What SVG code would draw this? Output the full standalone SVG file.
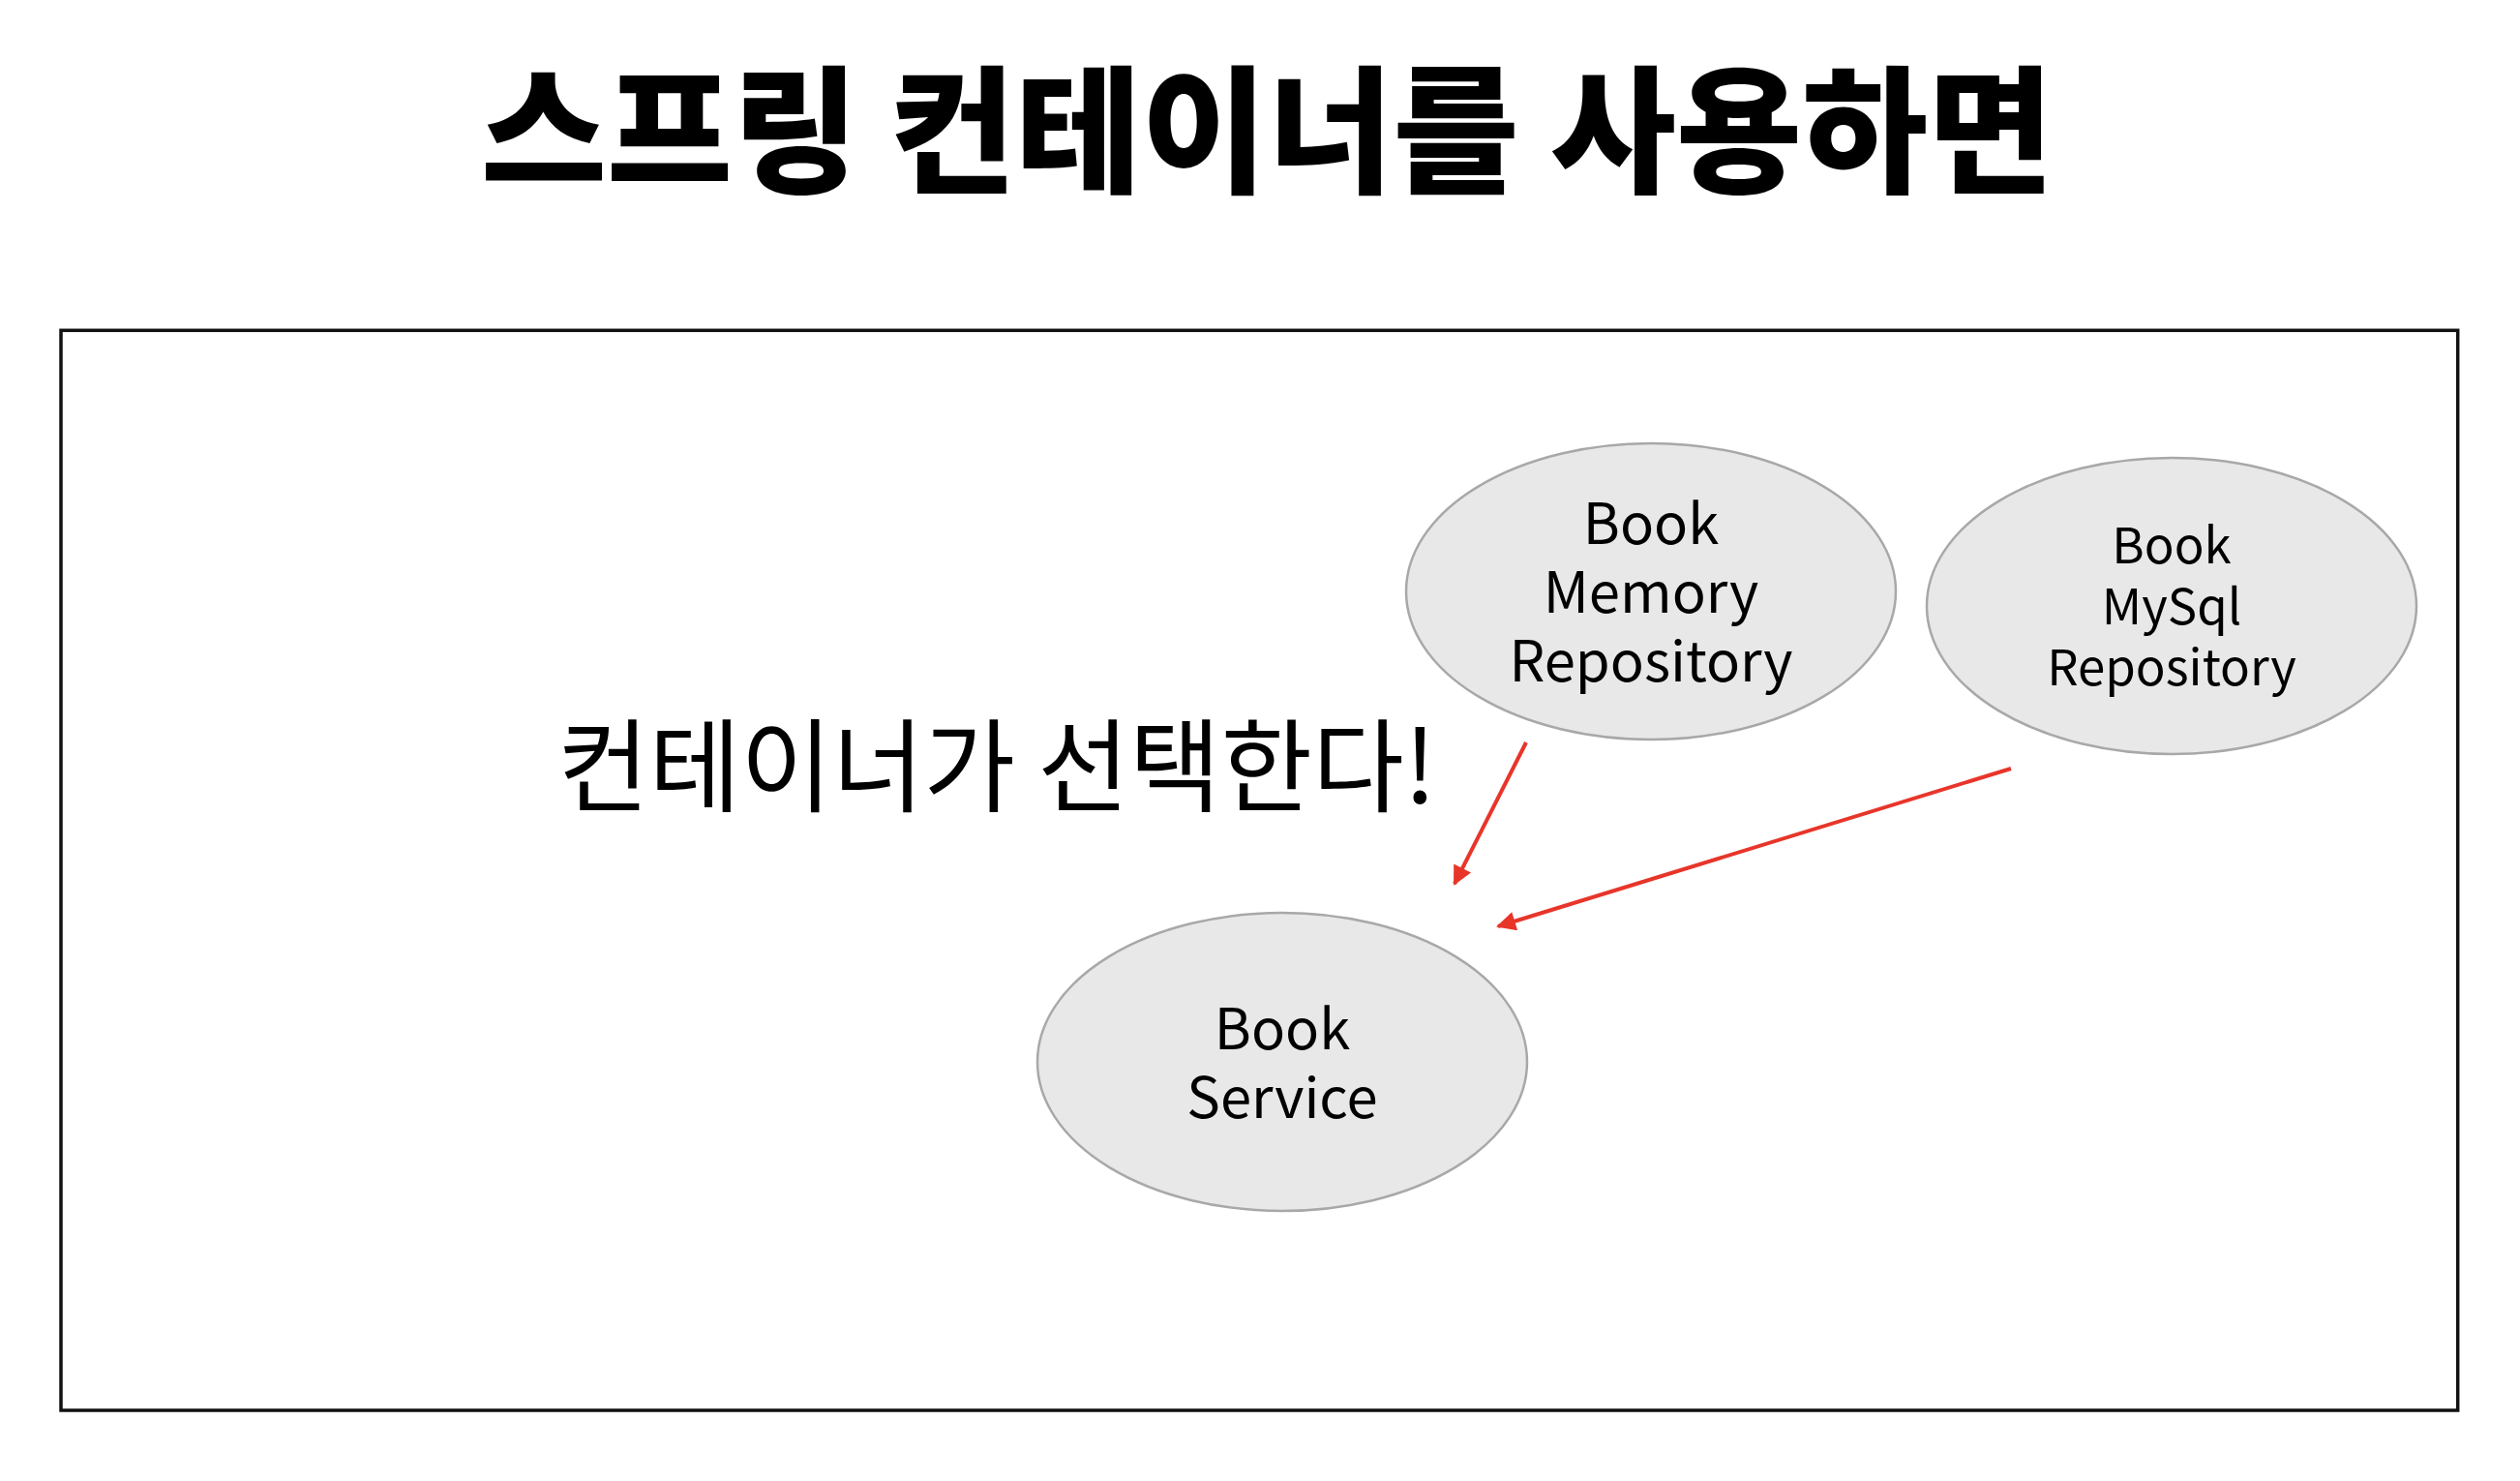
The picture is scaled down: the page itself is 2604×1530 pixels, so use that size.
<svg xmlns="http://www.w3.org/2000/svg" width="2604" height="1530" viewBox="0 0 2604 1530">
<style>
.node ellipse{fill:#e8e8e8;stroke:#a8a8a8;stroke-width:2.5}
.lbl{font-family:"Noto Sans CJK KR","Noto Sans",sans-serif;fill:#000;text-anchor:middle}
.edge{stroke:#e8352a;stroke-width:4;fill:none}
</style>
<defs>
<marker id="ah" viewBox="0 0 10 10" refX="9" refY="5" markerWidth="6" markerHeight="5" markerUnits="strokeWidth" orient="auto">
<path d="M0,0 L10,5 L0,10 z" fill="#e8352a"/>
</marker>
</defs>
<rect width="2604" height="1530" fill="#fff"/>
<text id="title" x="497" y="188" font-family="'Noto Sans CJK KR',sans-serif" font-weight="900" font-size="142" textLength="1625" lengthAdjust="spacingAndGlyphs" fill="#000">스프링 컨테이너를 사용하면</text>
<rect id="container" x="63" y="341.3" width="2476.7" height="1115.7" fill="none" stroke="#111" stroke-width="3.5"/>
<text id="note" x="576" y="830" font-family="'Noto Sans CJK KR',sans-serif" font-size="105" textLength="908" lengthAdjust="spacingAndGlyphs" fill="#000">컨테이너가 선택한다!</text>
<g id="memory" class="node">
<ellipse cx="1706" cy="611" rx="253" ry="153"/>
<text class="lbl" font-size="58"><tspan x="1706" y="562">Book</tspan><tspan x="1706" y="633">Memory</tspan><tspan x="1706" y="704">Repository</tspan></text>
</g>
<g id="mysql" class="node">
<ellipse cx="2244" cy="626" rx="253" ry="153"/>
<text class="lbl" font-size="51"><tspan x="2244" y="582">Book</tspan><tspan x="2244" y="645">MySql</tspan><tspan x="2244" y="708">Repository</tspan></text>
</g>
<g id="service" class="node">
<ellipse cx="1325" cy="1097" rx="253" ry="154"/>
<text class="lbl" font-size="58"><tspan x="1325" y="1084">Book</tspan><tspan x="1325" y="1155">Service</tspan></text>
</g>
<g id="connectors">
<line class="edge" x1="1577" y1="767" x2="1503" y2="913" marker-end="url(#ah)"/>
<line class="edge" x1="2078" y1="794" x2="1548" y2="957" marker-end="url(#ah)"/>
</g>
</svg>
